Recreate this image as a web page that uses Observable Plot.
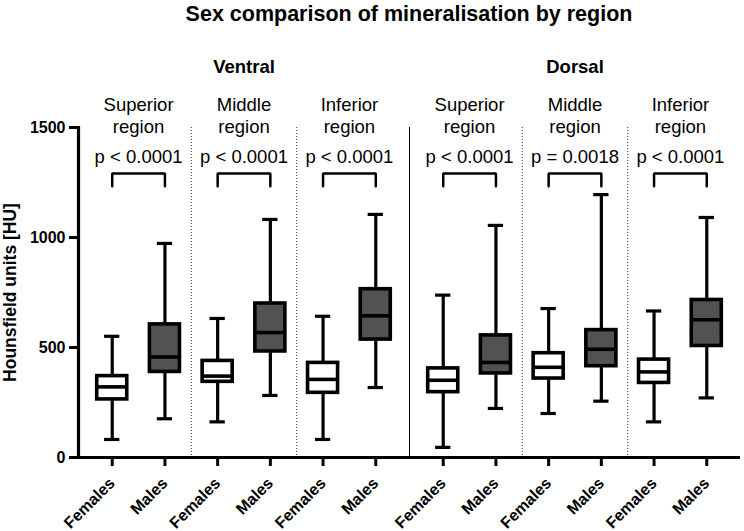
<!DOCTYPE html>
<html><head><meta charset="utf-8">
<script src="https://cdn.jsdelivr.net/npm/d3@7"></script>
<script src="https://cdn.jsdelivr.net/npm/@observablehq/plot@0.6"></script>
<style>
body{margin:0;background:#fff;font-family:"Liberation Sans",Arial,sans-serif;}
#title{height:28px;line-height:28px;padding-left:78px;padding-right:4px;text-align:center;font-weight:bold;font-size:21.5px;color:#000;}
</style></head><body>
<div id="title">Sex comparison of mineralisation by region</div>
<div id="chart"></div>
<script>
const groups = ["Ventral", "Dorsal"];
const regions = ["Superior", "Middle", "Inferior"];
const sexes = ["Females", "Males"];
const pValues = ["p < 0.0001", "p < 0.0001", "p < 0.0001", "p < 0.0001", "p = 0.0018", "p < 0.0001"];
// order: Ventral (Sup F, Sup M, Mid F, Mid M, Inf F, Inf M), then Dorsal (same)
const mins    = [82, 176, 162, 282, 82, 318,   46, 223, 200, 256, 162, 271];
const q1s     = [264, 389, 344, 482, 294, 536, 297, 382, 359, 415, 339, 507];
const medians = [321, 457, 370, 568, 355, 644, 351, 432, 410, 492, 389, 626];
const q3s     = [370, 605, 439, 700, 430, 765, 405, 555, 474, 579, 445, 716];
const maxs    = [551, 973, 632, 1082, 642, 1105, 738, 1055, 677, 1195, 666, 1091];
const yTicks = [0, 500, 1000, 1500];
const yLabel = "Hounsfield units [HU]";
const bracketTop = 1291, bracketLeg = 1233;

const rows = [];
groups.forEach((g, gi) => regions.forEach((r, ri) => sexes.forEach((s, si) => {
  const k = gi * 6 + ri * 2 + si;
  rows.push({group: g, region: r, sex: s, c: ri * 2 + si,
    min: mins[k], q1: q1s[k], median: medians[k], q3: q3s[k], max: maxs[k]});
})));
const regionRows = [];
groups.forEach((g, gi) => regions.forEach((r, ri) => {
  regionRows.push({group: g, region: r, c0: ri * 2, c1: ri * 2 + 1, mid: ri * 2 + 0.5, p: pValues[gi * 3 + ri]});
}));
const sepRows = [];
groups.forEach(g => regions.slice(1).forEach((r, ri) => sepRows.push({group: g, x: ri * 2 + 1.5})));
const bracketPts = regionRows.flatMap(d => [
  {group: d.group, key: d.group + d.region, x: d.c0, y: bracketLeg},
  {group: d.group, key: d.group + d.region, x: d.c0, y: bracketTop},
  {group: d.group, key: d.group + d.region, x: d.c1, y: bracketTop},
  {group: d.group, key: d.group + d.region, x: d.c1, y: bracketLeg}
]);

const pad = 0.64, hw = 0.285, cap = 0.145;
const font = "Liberation Sans, Arial, sans-serif";

const chart = Plot.plot({
  width: 744, height: 503,
  marginLeft: 78, marginRight: 4, marginTop: 99, marginBottom: 74,
  style: {fontFamily: font, color: "#000", background: "#fff", overflow: "visible"},
  fx: {domain: groups, padding: 0},
  x: {domain: [-pad, 5 + pad]},
  y: {domain: [0, 1500]},
  color: {domain: sexes, range: ["#ffffff", "#525252"]},
  marks: [
    Plot.ruleX(sepRows, {fx: "group", x: "x", stroke: "#333", strokeWidth: 1, strokeDasharray: "1,2"}),
    Plot.frame({anchor: "left", stroke: "#000", strokeWidth: 1}),
    Plot.frame({anchor: "left", stroke: "#000", strokeWidth: 3.2, facetAnchor: "left"}),
    Plot.ruleY([0], {stroke: "#000", strokeWidth: 3.2}),
    Plot.ruleX(rows, {fx: "group", x: "c", y1: "q3", y2: "max", strokeWidth: 3.2}),
    Plot.ruleX(rows, {fx: "group", x: "c", y1: "min", y2: "q1", strokeWidth: 3.2}),
    Plot.ruleY(rows, {fx: "group", x1: d => d.c - cap, x2: d => d.c + cap, y: "max", strokeWidth: 3.2}),
    Plot.ruleY(rows, {fx: "group", x1: d => d.c - cap, x2: d => d.c + cap, y: "min", strokeWidth: 3.2}),
    Plot.rect(rows, {fx: "group", x1: d => d.c - hw, x2: d => d.c + hw, y1: "q1", y2: "q3", fill: "sex", stroke: "#000", strokeWidth: 3.6}),
    Plot.ruleY(rows, {fx: "group", x1: d => d.c - hw, x2: d => d.c + hw, y: "median", strokeWidth: 3.6}),
    Plot.line(bracketPts, {fx: "group", x: "x", y: "y", z: "key", stroke: "#000", strokeWidth: 2.5, strokeLinejoin: "miter"}),
    Plot.text(regionRows, {fx: "group", x: "mid", frameAnchor: "top", text: d => d.region + "\nregion", lineAnchor: "bottom", lineHeight: 1.15, fontSize: 18.5, dy: 5}),
    Plot.text(regionRows, {fx: "group", x: "mid", frameAnchor: "top", text: "p", lineAnchor: "middle", fontSize: 18.5, dy: 30}),
    Plot.text([yLabel], {text: d => d, frameAnchor: "left", textAnchor: "middle", lineAnchor: "middle", rotate: -90, dx: -68, fontSize: 17.5, fontWeight: "bold", facetAnchor: "left"}),
    Plot.axisY({ticks: yTicks, tickFormat: d => String(d), tickSize: 9, tickPadding: 4, strokeWidth: 3, fontSize: 16, fontWeight: "bold", label: null}),
    Plot.axisX({ticks: d3.range(6), tickFormat: i => sexes[i % 2], tickRotate: -45, tickSize: 9, tickPadding: 14, strokeWidth: 3,
      fontSize: 16, fontWeight: "bold", label: null}),
    Plot.axisFx({anchor: "top", label: null, tickSize: 0, tickPadding: 55, fontSize: 18.5, fontWeight: "bold"})
  ]
});
document.getElementById("chart").appendChild(chart);
</script>
</body></html>
